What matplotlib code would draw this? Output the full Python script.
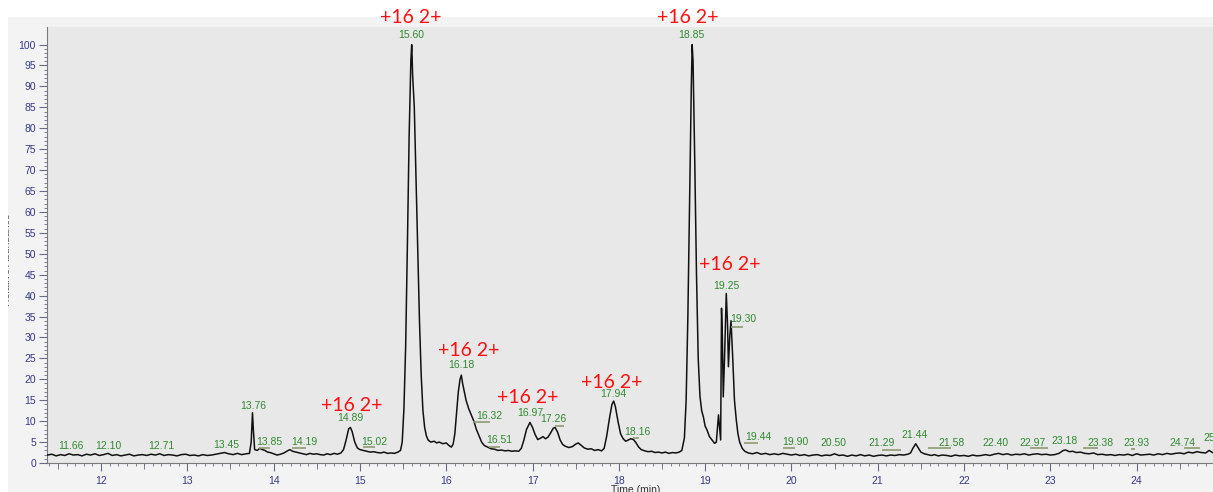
import matplotlib
matplotlib.use("Agg")
import matplotlib.pyplot as plt
from matplotlib.ticker import MultipleLocator, FixedLocator, NullFormatter
from matplotlib.patches import Rectangle
from matplotlib.transforms import Bbox, TransformedBbox

# ---------------- data (time in min, relative abundance in %) ----------------
baseline_left = [
    (11.38, 1.9), (11.43, 2.1), (11.48, 1.7), (11.53, 2.0), (11.58, 1.8), (11.63, 2.2),
    (11.68, 1.9), (11.73, 2.0), (11.78, 1.7), (11.83, 2.1), (11.88, 1.9), (11.93, 2.2),
    (11.98, 1.8), (12.03, 2.0), (12.08, 2.3), (12.13, 1.8), (12.18, 2.0), (12.23, 1.7),
    (12.28, 1.9), (12.33, 2.1), (12.38, 1.7), (12.43, 1.9), (12.48, 2.0), (12.53, 1.8),
    (12.58, 2.1), (12.63, 1.9), (12.68, 2.2), (12.73, 1.8), (12.78, 2.0), (12.83, 1.9),
    (12.88, 1.7), (12.93, 2.0), (12.98, 2.1), (13.03, 1.8), (13.08, 1.9), (13.13, 1.7),
    (13.18, 2.0), (13.23, 1.8), (13.28, 1.9), (13.33, 2.1), (13.38, 2.3), (13.43, 2.5),
    (13.48, 2.2), (13.53, 2.0), (13.58, 2.3), (13.63, 2.0), (13.68, 2.2), (13.72, 2.3),
]
peak_13_76 = [
    (13.74, 5.0), (13.755, 12.0), (13.765, 8.0), (13.78, 3.2), (13.81, 3.0), (13.84, 3.5),
    (13.87, 3.2), (13.90, 3.0), (13.93, 2.6), (13.96, 2.5), (14.00, 2.2), (14.04, 1.9),
    (14.08, 2.1), (14.12, 2.4), (14.16, 2.9), (14.19, 3.2), (14.22, 2.8), (14.26, 2.6),
    (14.30, 2.4), (14.34, 2.2), (14.38, 2.0), (14.42, 2.3), (14.46, 2.1), (14.50, 2.2),
    (14.54, 2.0), (14.58, 1.9), (14.62, 2.2), (14.66, 2.0), (14.70, 2.3), (14.74, 2.1),
    (14.78, 2.4),
]
peak_14_89 = [
    (14.81, 3.2), (14.84, 5.5), (14.87, 8.2), (14.89, 8.5), (14.91, 7.5), (14.94, 5.0),
    (14.97, 3.6), (15.00, 3.2), (15.04, 3.0), (15.08, 2.8), (15.12, 2.6), (15.16, 2.7),
    (15.20, 2.5), (15.24, 2.4), (15.28, 2.6), (15.32, 2.3), (15.36, 2.4), (15.40, 2.3),
    (15.44, 2.6), (15.47, 3.0),
]
peak_15_60 = [
    (15.49, 5.0), (15.51, 13.0), (15.53, 28.0), (15.55, 52.0), (15.57, 78.0), (15.59, 96.0),
    (15.60, 100.0), (15.605, 97.0), (15.61, 93.0), (15.63, 85.0), (15.65, 68.0), (15.67, 50.0),
    (15.69, 34.0), (15.71, 21.0), (15.73, 12.5), (15.75, 8.5), (15.77, 6.5), (15.79, 5.5),
    (15.82, 5.0), (15.86, 5.2), (15.89, 4.8), (15.92, 5.0), (15.96, 4.6), (16.00, 4.8),
    (16.03, 4.2), (16.06, 3.8), (16.08, 4.5),
]
peak_16_18 = [
    (16.10, 7.0), (16.12, 12.0), (16.14, 17.0), (16.16, 20.0), (16.175, 21.0), (16.19, 19.0),
    (16.21, 17.0), (16.23, 15.0), (16.26, 13.0), (16.29, 11.5), (16.32, 10.0), (16.35, 8.0),
    (16.38, 6.5), (16.41, 5.0), (16.44, 4.2), (16.48, 3.8), (16.52, 3.4), (16.56, 3.3),
    (16.60, 3.0), (16.64, 3.1), (16.68, 2.9), (16.72, 3.0), (16.76, 2.8), (16.80, 2.9),
    (16.84, 2.8),
]
peak_16_97 = [
    (16.87, 3.5), (16.90, 5.5), (16.93, 8.0), (16.97, 9.7), (17.00, 8.5), (17.03, 6.8),
    (17.06, 5.6), (17.09, 5.9), (17.12, 6.3), (17.15, 5.8), (17.18, 6.2), (17.21, 7.2),
    (17.24, 8.3), (17.26, 8.5), (17.29, 7.4), (17.32, 5.5), (17.35, 4.4), (17.38, 4.0),
    (17.42, 3.7), (17.46, 3.9), (17.50, 4.5), (17.53, 4.8), (17.56, 4.3), (17.60, 3.6),
    (17.64, 3.3), (17.68, 3.4), (17.72, 3.0), (17.76, 3.2), (17.80, 2.9), (17.83, 3.5),
]
peak_17_94 = [
    (17.86, 6.5), (17.89, 10.5), (17.92, 14.0), (17.94, 14.8), (17.96, 13.5), (17.99, 10.0),
    (18.02, 7.0), (18.05, 5.8), (18.08, 5.2), (18.11, 5.5), (18.14, 5.8), (18.17, 5.6),
    (18.20, 4.8), (18.23, 3.8), (18.26, 3.2), (18.30, 2.9), (18.34, 2.7), (18.38, 2.8),
    (18.42, 2.5), (18.46, 2.6), (18.50, 2.4), (18.54, 2.6), (18.58, 2.3), (18.62, 2.5),
    (18.66, 2.4), (18.70, 2.6), (18.73, 3.0),
]
peak_18_85 = [
    (18.76, 6.0), (18.78, 15.0), (18.80, 35.0), (18.82, 62.0), (18.84, 90.0), (18.85, 100.0),
    (18.86, 96.0), (18.88, 72.0), (18.90, 45.0), (18.92, 25.0), (18.94, 16.0), (18.96, 12.5),
    (18.98, 11.0), (19.00, 8.8), (19.02, 8.0), (19.05, 6.3), (19.08, 5.5), (19.11, 4.7),
    (19.13, 5.0),
]
peak_19_25 = [
    (19.155, 11.5), (19.17, 8.0), (19.18, 5.5), (19.19, 37.0), (19.20, 30.0), (19.21, 15.8),
    (19.225, 25.0), (19.245, 40.5), (19.26, 33.0), (19.27, 23.0), (19.285, 30.0), (19.30, 34.0),
    (19.32, 25.0), (19.34, 15.0), (19.36, 10.5), (19.38, 7.0), (19.40, 5.0), (19.43, 3.5),
    (19.46, 2.8),
]
baseline_right = [
    (19.50, 2.4), (19.55, 2.2), (19.60, 2.5), (19.65, 2.1), (19.70, 2.3), (19.75, 2.0),
    (19.80, 2.2), (19.85, 2.0), (19.90, 2.3), (19.95, 2.1), (20.00, 1.9), (20.05, 2.1),
    (20.10, 1.8), (20.15, 2.0), (20.20, 1.7), (20.25, 1.9), (20.30, 2.0), (20.35, 1.7),
    (20.40, 1.9), (20.45, 1.8), (20.50, 2.2), (20.55, 1.8), (20.60, 1.9), (20.65, 1.6),
    (20.70, 1.9), (20.75, 1.7), (20.80, 2.0), (20.85, 1.7), (20.90, 1.9), (20.95, 1.6),
    (21.00, 1.8), (21.05, 1.9), (21.10, 1.7), (21.15, 1.9), (21.20, 1.8), (21.25, 2.0),
    (21.30, 1.9), (21.35, 2.1), (21.38, 2.4), (21.41, 3.6), (21.44, 4.6), (21.47, 3.6),
    (21.50, 2.6), (21.54, 2.2), (21.58, 2.0), (21.62, 1.8), (21.66, 2.0), (21.70, 1.7),
    (21.75, 1.9), (21.80, 1.8), (21.85, 1.6), (21.90, 1.9), (21.95, 1.7), (22.00, 1.8),
    (22.05, 1.6), (22.10, 1.9), (22.15, 1.7), (22.20, 1.8), (22.25, 2.0), (22.30, 1.8),
    (22.35, 2.1), (22.40, 2.3), (22.45, 2.0), (22.50, 2.2), (22.55, 1.9), (22.60, 2.1),
    (22.65, 2.0), (22.70, 2.2), (22.75, 1.9), (22.80, 2.1), (22.85, 2.2), (22.90, 2.0),
    (22.95, 2.1), (23.00, 1.9), (23.05, 2.0), (23.10, 2.3), (23.15, 3.0), (23.18, 3.1),
    (23.22, 2.7), (23.26, 2.8), (23.30, 2.5), (23.35, 2.6), (23.40, 2.3), (23.45, 2.2),
    (23.50, 2.4), (23.55, 2.0), (23.60, 2.1), (23.65, 1.9), (23.70, 2.0), (23.75, 1.8),
    (23.80, 2.0), (23.85, 1.9), (23.90, 2.1), (23.95, 1.8), (24.00, 2.2), (24.05, 1.9),
    (24.10, 2.0), (24.15, 2.1), (24.20, 1.9), (24.25, 2.2), (24.30, 2.0), (24.35, 2.3),
    (24.40, 2.1), (24.45, 2.3), (24.50, 2.4), (24.55, 2.2), (24.60, 2.6), (24.65, 2.4),
    (24.70, 2.7), (24.75, 2.5), (24.80, 2.4), (24.84, 3.0), (24.88, 2.5),
]

# green peak labels: text, x position (min), y position (%)
peak_labels = [
    ("11.66", 11.65, 4.1), ("12.10", 12.09, 4.1), ("12.71", 12.70, 4.1), ("13.45", 13.45, 4.3),
    ("13.76", 13.76, 13.7), ("13.85", 13.95, 5.1), ("14.19", 14.36, 5.1), ("14.89", 14.885, 10.8),
    ("15.02", 15.17, 5.1), ("15.60", 15.59, 102.2), ("16.18", 16.18, 23.4), ("16.32", 16.50, 11.3),
    ("16.51", 16.61, 5.6), ("16.97", 16.97, 11.9), ("17.26", 17.24, 10.5), ("17.94", 17.93, 16.6),
    ("18.16", 18.22, 7.4), ("18.85", 18.84, 102.2), ("19.25", 19.25, 42.2), ("19.30", 19.44, 34.3),
    ("19.44", 19.61, 6.1), ("19.90", 20.05, 5.0), ("20.50", 20.49, 4.8), ("21.29", 21.04, 4.8),
    ("21.44", 21.43, 6.7), ("21.58", 21.85, 4.8), ("22.40", 22.36, 4.8), ("22.97", 22.79, 4.8),
    ("23.18", 23.16, 5.3), ("23.38", 23.58, 4.8), ("23.93", 24.00, 4.8), ("24.74", 24.53, 4.8),
]
# olive peak-width bars: start, end (min), level (%)
peak_bars = [
    (13.83, 13.96, 3.6), (14.21, 14.37, 3.6), (15.03, 15.17, 3.8), (16.31, 16.51, 9.8),
    (16.50, 16.62, 3.9), (17.26, 17.37, 8.8), (18.16, 18.23, 6.0), (19.30, 19.44, 32.5),
    (19.45, 19.61, 4.8), (19.90, 20.04, 3.6), (21.05, 21.27, 3.1), (21.58, 21.85, 3.6),
    (22.76, 22.97, 3.6), (23.38, 23.55, 3.6), (23.93, 23.98, 3.4), (24.55, 24.73, 3.6),
]
# red annotations: text, x, y
red_notes = [
    ("+16 2+", 15.59, 106.4), ("+16 2+", 18.80, 106.4), ("+16 2+", 14.90, 13.7),
    ("+16 2+", 16.26, 26.8), ("+16 2+", 16.94, 15.7), ("+16 2+", 17.92, 19.3),
    ("+16 2+", 19.28, 47.5),
]
x_major_ticks = list(range(12, 25))
y_major_ticks = list(range(0, 101, 5))

# ---------------- figure ----------------
W, H = 1213, 492
fig = plt.figure(figsize=(W / 100, H / 100), dpi=100)
fig.patch.set_facecolor("white")
panel = Rectangle((8 / W, 0), 1 - 8 / W, (H - 17) / H, transform=fig.transFigure,
                  facecolor="#f3f3f3", edgecolor="none", zorder=-10)
fig.patches.append(panel)

ax = fig.add_axes([47 / W, (H - 463) / H, 1 - 47 / W, (463 - 27) / H])
ax.set_zorder(1)
ax.set_facecolor("#e8e8e8")

trace = (baseline_left + peak_13_76 + peak_14_89 + peak_15_60 + peak_16_18 +
         peak_16_97 + peak_17_94 + peak_18_85 + peak_19_25 + baseline_right)
t_vals = [p[0] for p in trace]
y_vals = [p[1] for p in trace]
ax.plot(t_vals, y_vals, color="#111111", lw=1.1, zorder=3)

ax.set_xlim(11.374, 24.885)
ax.set_ylim(0, 104.2)

for s in ("top", "right"):
    ax.spines[s].set_visible(False)
for s in ("left", "bottom"):
    ax.spines[s].set_color("#7a7a7a")
    ax.spines[s].set_linewidth(0.8)

tick_col = "#38388a"
lab_font = "Liberation Sans"
ax.xaxis.set_major_locator(FixedLocator(x_major_ticks))
ax.xaxis.set_minor_locator(MultipleLocator(0.1))
ax.yaxis.set_major_locator(FixedLocator(y_major_ticks))
ax.yaxis.set_minor_locator(FixedLocator(list(range(0, 101))))
ax.tick_params(axis="both", which="major", direction="out", length=6, width=0.8,
               color="#6a6a8a", labelcolor=tick_col, labelsize=7.5, pad=2)
ax.tick_params(axis="both", which="minor", direction="out", length=2.5, width=0.6,
               color="#6a6a8a")
ax.tick_params(axis="x", which="major", pad=3)
for lbl in ax.get_xticklabels() + ax.get_yticklabels():
    lbl.set_family(lab_font)

# half-minute ticks
sec = ax.secondary_xaxis("bottom")
sec.spines["bottom"].set_visible(False)
sec.xaxis.set_major_locator(MultipleLocator(0.5))
sec.xaxis.set_major_formatter(NullFormatter())
sec.tick_params(axis="x", which="major", length=4, width=0.6, color="#6a6a8a")
sec.xaxis.set_minor_locator(FixedLocator([]))

# peak labels
for txt, x, y in peak_labels:
    ax.text(x, y, txt, ha="center", va="center", fontsize=7.5, color="#2f8a2f",
            family=lab_font, zorder=5, clip_on=False)
ax.text(24.77, 5.9, "25", ha="left", va="center", fontsize=7.5, color="#2f8a2f",
        family=lab_font, zorder=5, clip_on=False)
for t0, t1, y in peak_bars:
    ax.hlines(y, t0, t1, color="#8d9a70", lw=1.2, zorder=4)

for txt, x, y in red_notes:
    ax.text(x, y, txt, ha="center", va="center", fontsize=14, color="#ff1010",
            family="Lato", zorder=6, clip_on=False)

# axis titles (partially cut off, as in the original)
yl = fig.text(7 / W, 1 - 260 / H, "Relative Abundance", rotation=90, ha="center", va="center",
              fontsize=7.5, color="#555555", family=lab_font)
yl.set_clip_box(TransformedBbox(Bbox.from_extents(8 / W, 0, 1, 1), fig.transFigure))
fig.text(636 / W, (H - 485) / H, "Time (min)", ha="center", va="top", fontsize=7.5,
         color="#333333", family=lab_font)

fig.savefig("out.png", dpi=100, facecolor=fig.get_facecolor())
